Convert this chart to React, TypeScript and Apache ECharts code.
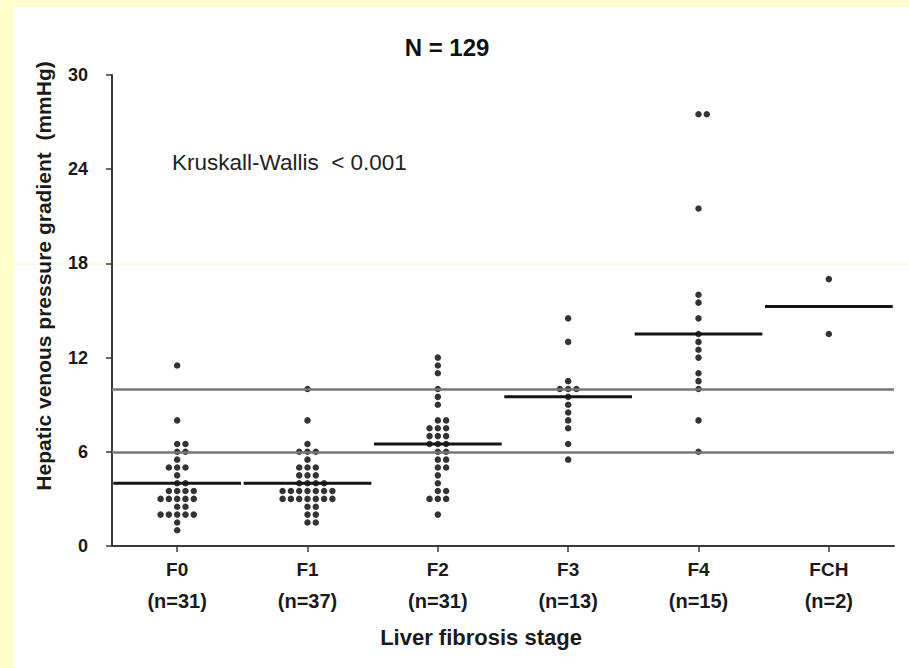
import React, { useEffect, useRef } from "react";
import * as echarts from "echarts";

// Liver fibrosis stages and the number of patients in each
const stages = ["F0", "F1", "F2", "F3", "F4", "FCH"];
const groupSizes = [31, 37, 31, 13, 15, 2];

// Hepatic venous pressure gradient (mmHg) per patient, one array per stage
const hvpgF0 = [11.5, 8, 6.5, 6.5, 6, 6, 5.5, 5, 5, 5, 4.5, 4, 4, 3.5, 3.5, 3.5, 3.5, 3, 3, 3, 3, 3, 2.5, 2.5, 2, 2, 2, 2, 2, 1.5, 1];
const hvpgF1 = [10, 8, 6.5, 6, 6, 6, 5.5, 5, 5, 5, 4.5, 4.5, 4.5, 4, 4, 4, 4, 3.5, 3.5, 3.5, 3.5, 3.5, 3.5, 3.5, 3, 3, 3, 3, 3, 3, 3, 2.5, 2.5, 2, 2, 1.5, 1.5];
const hvpgF2 = [12, 11.5, 11, 10, 9.5, 9, 8, 8, 7.5, 7.5, 7.5, 7, 7, 7, 6.5, 6.5, 6.5, 6, 6, 5.5, 5.5, 5, 5, 4.5, 4, 3.5, 3.5, 3, 3, 3, 2];
const hvpgF3 = [14.5, 13, 10.5, 10, 10, 10, 9.5, 9, 8.5, 8, 7.5, 6.5, 5.5];
const hvpgF4 = [27.5, 27.5, 21.5, 16, 15.5, 14.5, 13.5, 13, 12.5, 12, 11, 10.5, 10, 8, 6];
const hvpgFCH = [17, 13.5];

// Median of each group and the horizontal reference thresholds (mmHg)
const medians = [4, 4, 6.5, 9.5, 13.5, 15.25];
const thresholds = [6, 10];

// Y axis range
const yMin = 0;
const yMax = 30;
const yStep = 6;

const title = "N = 129";
const testNote = "Kruskall-Wallis  < 0.001";
const yName = "Hepatic venous pressure gradient  (mmHg)";
const xName = "Liver fibrosis stage";

const groups = [hvpgF0, hvpgF1, hvpgF2, hvpgF3, hvpgF4, hvpgFCH];

const FONT = "'Liberation Sans', Arial, Helvetica, sans-serif";
const DOT_GAP = 8.3;

// Dot-plot layout: equal values in a group sit side by side in one row
function buildDots() {
  const out: any[] = [];
  groups.forEach((vals, gi) => {
    const counts = new Map<number, number>();
    vals.forEach((v) => counts.set(v, (counts.get(v) || 0) + 1));
    const placed = new Map<number, number>();
    vals.forEach((v) => {
      const n = counts.get(v) || 1;
      const k = placed.get(v) || 0;
      placed.set(v, k + 1);
      const col = k - Math.floor((n - 1) / 2);
      out.push({ value: [gi, v], symbolOffset: [col * DOT_GAP, 0] });
    });
  });
  return out;
}

export default function App() {
  const ref = useRef<HTMLDivElement>(null);

  useEffect(() => {
    if (!ref.current) return;
    const chart = echarts.init(ref.current, undefined, { renderer: "svg" });

    const option: any = {
      animation: false,
      backgroundColor: "#ffffff",
      grid: { left: 98, right: 15, top: 68, bottom: 122, containLabel: false },
      xAxis: {
        type: "category",
        data: stages,
        boundaryGap: true,
        axisLine: { show: true, lineStyle: { color: "#3a3a3a", width: 2 } },
        axisTick: { show: true, alignWithLabel: true, length: 6, lineStyle: { color: "#3a3a3a", width: 1.5 } },
        axisLabel: {
          interval: 0,
          margin: 8,
          formatter: (val: string, idx: number) => `{a|${val}}\n{b|(n=${groupSizes[idx]})}`,
          rich: {
            a: { fontFamily: FONT, fontWeight: "bold", fontSize: 19, color: "#1a1a1a", lineHeight: 31 },
            b: { fontFamily: FONT, fontWeight: "bold", fontSize: 20, color: "#1a1a1a", lineHeight: 31 },
          },
        },
        splitLine: { show: false },
      },
      yAxis: {
        type: "value",
        min: yMin,
        max: yMax,
        interval: yStep,
        axisLine: { show: true, lineStyle: { color: "#3a3a3a", width: 2 } },
        axisTick: { show: true, length: 6, lineStyle: { color: "#3a3a3a", width: 1.5 } },
        axisLabel: { margin: 24, fontFamily: FONT, fontWeight: "bold", fontSize: 18, color: "#1a1a1a" },
        splitLine: { show: false },
      },
      series: [
        {
          type: "scatter",
          data: [],
          z: 1,
          silent: true,
          markLine: {
            silent: true,
            symbol: ["none", "none"],
            label: { show: false },
            lineStyle: { color: "#777777", width: 2.5, type: "solid" },
            data: thresholds.map((t) => ({ yAxis: t })),
          },
        },
        {
          type: "scatter",
          z: 3,
          symbol: "circle",
          symbolSize: 6.5,
          itemStyle: { color: "#000000" },
          data: buildDots(),
        },
        {
          type: "custom",
          z: 4,
          data: medians.map((m, i) => [i, m]),
          renderItem: (_params: any, api: any) => {
            const p = api.coord([api.value(0), api.value(1)]);
            const half = api.size([1, 0])[0] * 0.49;
            return {
              type: "line",
              shape: { x1: p[0] - half, y1: p[1], x2: p[0] + half, y2: p[1] },
              style: { stroke: "#151515", lineWidth: 3 },
            };
          },
        },
      ],
      graphic: [
        {
          type: "line",
          silent: true,
          z: 0,
          shape: { x1: 0, y1: 257, x2: 895, y2: 257 },
          style: { stroke: "#fbf3c4", lineWidth: 1 },
        },
        {
          type: "text",
          x: 433,
          y: 40,
          style: { text: title, font: `bold 24px ${FONT}`, fill: "#111", textAlign: "center", textVerticalAlign: "middle" },
        },
        {
          type: "text",
          x: 158,
          y: 155,
          style: { text: testNote, font: `22.5px ${FONT}`, fill: "#222", textAlign: "left", textVerticalAlign: "middle" },
        },
        {
          type: "text",
          x: 29,
          y: 269,
          rotation: Math.PI / 2,
          style: { text: yName, font: `bold 21px ${FONT}`, fill: "#1a1a1a", textAlign: "center", textVerticalAlign: "middle" },
        },
        {
          type: "text",
          x: 467,
          y: 630,
          style: { text: xName, font: `bold 22px ${FONT}`, fill: "#1a1a1a", textAlign: "center", textVerticalAlign: "middle" },
        },
      ],
    };

    chart.setOption(option);
    return () => chart.dispose();
  }, []);

  return (
    <div style={{ position: "fixed", left: 0, top: 0, width: 909, height: 668, background: "#ffffcc", overflow: "hidden" }}>
      <div ref={ref} style={{ position: "absolute", left: 14, top: 7, width: 895, height: 661 }} />
    </div>
  );
}
